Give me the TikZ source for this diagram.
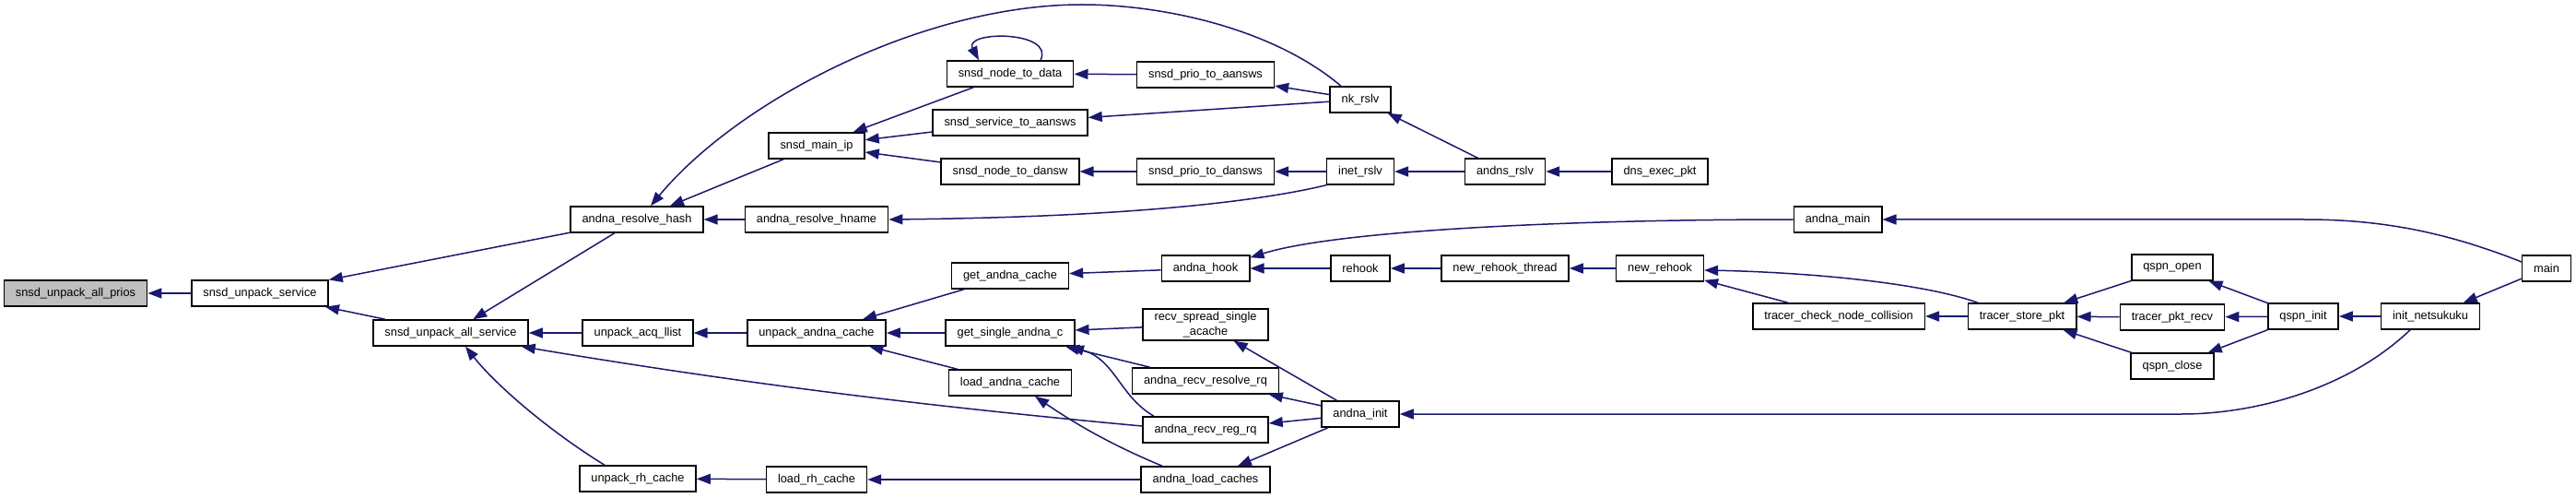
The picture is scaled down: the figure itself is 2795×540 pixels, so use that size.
\documentclass[tikz,border=0pt]{standalone}
\usepackage{fontspec}
\setmainfont{Liberation Sans}
\usetikzlibrary{arrows.meta}
\definecolor{dxEdge}{HTML}{191970}
\definecolor{dxRoot}{HTML}{BFBFBF}
\tikzset{
  >={Triangle[length=15pt,width=11pt]},
  fn/.style={draw=black, fill=white, line width=1.5pt, minimum height=28pt,
             inner xsep=12.5pt, inner ysep=3pt, align=center,
             font=\fontsize{12.8}{16}\selectfont},
  root/.style={fn, fill=dxRoot},
  call/.style={->, draw=dxEdge, line width=1.5pt},
}

\begin{document}
\begin{tikzpicture}[x=1pt,y=-1pt]
  \useasboundingbox (0,0) rectangle (2795,540);
  \node[root] (root) at (82,318) {snsd\_unpack\_all\_prios};
  \foreach \n/\x/\y/\t in {svc/282/318/snsd\_unpack\_service,
      allsvc/489/361/snsd\_unpack\_all\_service,
      rhash/691/238/andna\_resolve\_hash, acq/692/361/unpack\_acq\_llist,
      rhc/692/519/unpack\_rh\_cache, mainip/886/158/snsd\_main\_ip,
      rhname/886/238/andna\_resolve\_hname, uac/886/361/unpack\_andna\_cache,
      lrh/886/520/load\_rh\_cache, n2data/1096/80/snsd\_node\_to\_data,
      s2aans/1096/133/snsd\_service\_to\_aansws, n2dans/1096/186/snsd\_node\_to\_dansw,
      gac/1096/299/get\_andna\_cache, gsac/1096/361/get\_single\_andna\_c,
      lac/1096/415/load\_andna\_cache, p2aans/1308/81/snsd\_prio\_to\_aansws,
      p2dans/1308/186/snsd\_prio\_to\_dansws, hook/1308/291/andna\_hook,
      rrrq/1308/413/andna\_recv\_resolve\_rq, rreg/1308/466/andna\_recv\_reg\_rq,
      lcaches/1308/520/andna\_load\_caches, nk/1476/108/nk\_rslv,
      inet/1476/186/inet\_rslv, rehook/1476/291/rehook, init/1476/449/andna\_init,
      andns/1633/186/andns\_rslv, nrt/1633/291/new\_rehook\_thread,
      dns/1801/186/dns\_exec\_pkt, nrh/1801/291/new\_rehook,
      amain/1994/238/andna\_main, tcnc/1995/343/tracer\_check\_node\_collision,
      tsp/2194/343/tracer\_store\_pkt, qopen/2357/290/qspn\_open,
      tpr/2357/344/tracer\_pkt\_recv, qclose/2357/397/qspn\_close,
      qinit/2499/343/qspn\_init, initn/2637/343/init\_netsukuku, main/2763/291/main}
    \node[fn] (\n) at (\x,\y) {\t};
  \node[fn] (rssa) at (1308,352) {recv\_spread\_single\\\_acache};

  % straight calls, caller/callee
  \foreach \a/\b in {svc/root, rhash/svc, allsvc/svc, rhash/allsvc, acq/allsvc,
      mainip/rhash, rhname/rhash, n2data/mainip, s2aans/mainip, n2dans/mainip,
      p2aans/n2data, nk/s2aans, p2dans/n2dans, nk/p2aans, inet/p2dans, andns/nk,
      andns/inet, dns/andns, uac/acq, lrh/rhc, gac/uac, gsac/uac, lac/uac,
      hook/gac, rssa/gsac, rrrq/gsac, lcaches/lrh, rehook/hook, nrt/rehook,
      nrh/nrt, tcnc/nrh, init/rssa, init/rrrq, init/rreg, init/lcaches,
      main/initn, tsp/tcnc, qopen/tsp, tpr/tsp, qclose/tsp, qinit/qopen,
      qinit/tpr, qinit/qclose, initn/qinit}
    \draw[call] (\a) -- (\b);

  % curved calls
  \draw[call] ([xshift=-21pt]nk.north) .. controls (1380,30) and (1260,5) .. (1174,5)
    .. controls (1000,5) and (800,110) .. ([xshift=15pt]rhash.north);
  \draw[call] (inet.south west) .. controls (1380,215) and (1250,235) .. (rhname.east);
  \draw[call] ([xshift=-36pt]rhc.north) .. controls (600,470) and (540,420)
    .. ([xshift=16pt]allsvc.south);
  \draw[call] ([yshift=4pt]rreg.west) .. controls (1000,440) and (800,415)
    .. ([xshift=-8pt]allsvc.south east);
  \draw[call] ([xshift=-56pt]rreg.north) .. controls (1215,430) and (1210,390)
    .. ([xshift=65pt]gsac.south);
  \draw[call] ([xshift=-47pt]lcaches.north) .. controls (1200,480) and (1160,455)
    .. ([xshift=27pt]lac.south);
  \draw[call] ([xshift=-22pt]initn.south) .. controls (2550,420) and (2450,449)
    .. (2367,449) -- (init.east);
  \draw[call] ([yshift=7pt]main.west) .. controls (2650,250) and (2580,238)
    .. (2500,238) -- (amain.east);
  \draw[call] (amain.west) .. controls (1700,238) and (1450,250)
    .. ([yshift=-3pt]hook.north east);
  \draw[call] ([xshift=-48pt]tsp.north) .. controls (2080,305) and (1950,295)
    .. ([yshift=-2pt]nrh.east);
  \draw[call] ([xshift=33pt]n2data.north) .. controls (1145,33) and (1045,33)
    .. ([xshift=-34pt]n2data.north);
\end{tikzpicture}
\end{document}
